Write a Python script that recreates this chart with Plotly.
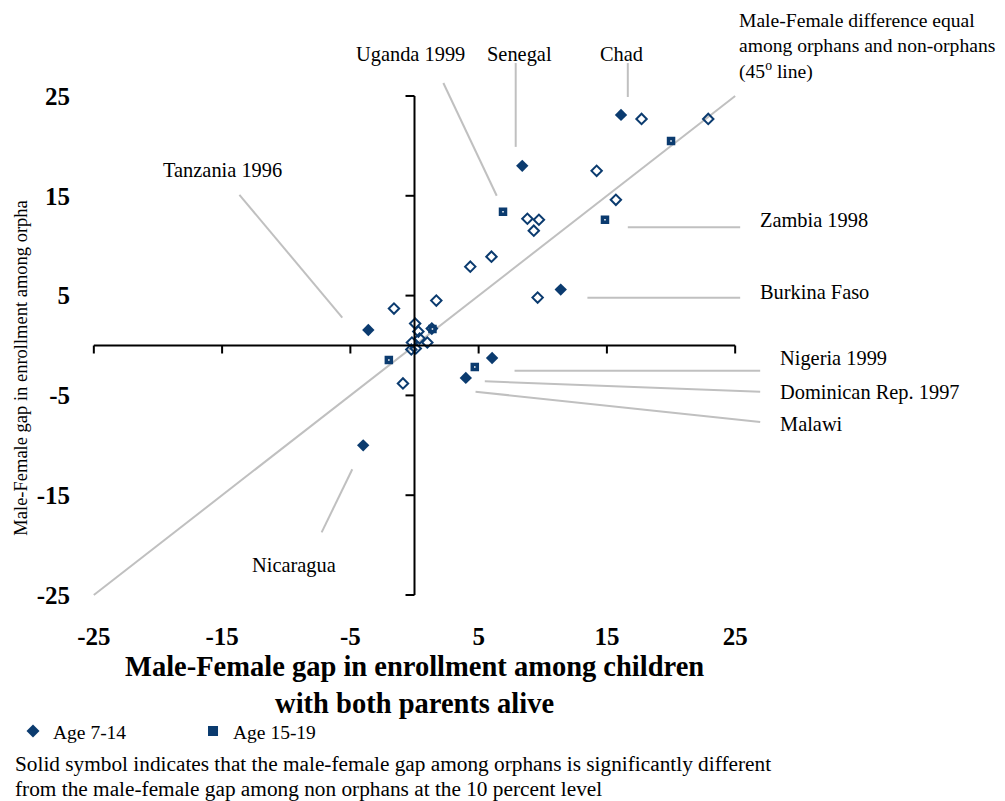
import plotly.graph_objects as go

# ---- data: male-female enrollment gaps (percentage points) ----
# Age 7-14 (diamonds): gap among children with both parents alive vs. among orphans
age714_x = [16.1, 17.7, 22.9, 8.4, 14.2, 15.7, 8.8, 9.7, 9.3, 6.0, 4.35, 1.7, 9.6, 11.4,
            -1.6, -3.6, 0.05, 0.3, 1.35, 0.4, -0.2, 1.0, 0.1, -0.25, 6.05, 4.0, -0.9, -4.0]
age714_y = [23.1, 22.7, 22.7, 18.0, 17.5, 14.6, 12.7, 12.6, 11.5, 8.9, 7.9, 4.5, 4.8, 5.6,
            3.7, 1.55, 2.2, 1.4, 1.7, 0.7, 0.3, 0.3, -0.3, -0.4, -1.25, -3.25, -3.8, -10.0]
# 1 = orphan gap significantly different from non-orphan gap (solid symbol)
age714_sig = [1, 0, 0, 1, 0, 0, 0, 0, 0, 0, 0, 0, 0, 1,
              0, 1, 0, 0, 0, 0, 0, 0, 0, 0, 1, 1, 0, 1]

# Age 15-19 (squares)
age1519_x = [20.0, 6.9, 14.85, 1.4, -2.0, 4.7]
age1519_y = [20.5, 13.4, 12.6, 1.65, -1.45, -2.15]

tick_vals = [-25, -15, -5, 5, 15, 25]
tick_text = ["-25", "-15", "-5", "5", "15", "25"]

# country call-outs: label, text anchor (data units), leader line start/end (data units)
callouts = [
    ("Tanzania 1996", (-15.0, 17.6), "center", (-13.65, 15.1), (-5.63, 2.8)),
    ("Uganda 1999", (-0.35, 29.2), "center", (2.25, 26.3), (6.41, 15.0)),
    ("Senegal", (8.15, 29.2), "center", (7.89, 28.3), (7.89, 19.9)),
    ("Chad", (16.1, 29.2), "center", (16.63, 28.3), (16.63, 24.9)),
    ("Zambia 1998", (26.79, 12.58), "left", (16.63, 11.84), (25.39, 11.84)),
    ("Burkina Faso", (26.79, 5.36), "left", (13.48, 4.79), (25.39, 4.79)),
    ("Nigeria 1999", (28.3, -1.35), "left", (7.8, -2.52), (26.95, -2.52)),
    ("Dominican Rep. 1997", (28.3, -4.7), "left", (5.48, -3.59), (26.95, -4.63)),
    ("Malawi", (28.3, -7.85), "left", (4.76, -4.63), (26.95, -7.66)),
    ("Nicaragua", (-9.4, -22.0), "center", (-4.85, -12.4), (-7.24, -18.72)),
]

NAVY = "#0b3b6f"
GREY = "#c0c0c0"
SERIF = "Liberation Serif, Times New Roman, serif"

X_MIN, X_MAX = -26, 26
Y_MIN, Y_MAX = -26, 26


def to_px(x):
    return (x - X_MIN) / (X_MAX - X_MIN)


def to_py(y):
    return (y - Y_MIN) / (Y_MAX - Y_MIN)


fig = go.Figure()

# 45-degree reference line
fig.add_trace(go.Scatter(x=[-25, 25], y=[-25, 25], mode="lines",
                         line=dict(color=GREY, width=2), hoverinfo="skip",
                         showlegend=False))

solid_x = [x for x, s in zip(age714_x, age714_sig) if s]
solid_y = [y for y, s in zip(age714_y, age714_sig) if s]
open_x = [x for x, s in zip(age714_x, age714_sig) if not s]
open_y = [y for y, s in zip(age714_y, age714_sig) if not s]

fig.add_trace(go.Scatter(x=open_x, y=open_y, mode="markers", showlegend=False,
                         marker=dict(symbol="diamond-open", size=8, color=NAVY,
                                     line=dict(color=NAVY, width=2))))
fig.add_trace(go.Scatter(x=solid_x, y=solid_y, mode="markers", showlegend=False,
                         marker=dict(symbol="diamond", size=9.5, color=NAVY,
                                     line=dict(width=0))))
fig.add_trace(go.Scatter(x=age1519_x, y=age1519_y, mode="markers", showlegend=False,
                         marker=dict(symbol="square-open", size=5, color=NAVY,
                                     line=dict(color=NAVY, width=3.5))))

# legend entries
fig.add_trace(go.Scatter(x=[None], y=[None], mode="markers", name="Age 7-14",
                         marker=dict(symbol="diamond", size=10, color=NAVY)))
fig.add_trace(go.Scatter(x=[None], y=[None], mode="markers", name="Age 15-19",
                         marker=dict(symbol="square", size=10, color=NAVY)))

shapes = []
# cross axes through the origin
shapes.append(dict(type="line", xref="x", yref="y", x0=-25, x1=25, y0=0, y1=0,
                   line=dict(color="black", width=2)))
shapes.append(dict(type="line", xref="x", yref="y", x0=0, x1=0, y0=-25, y1=25,
                   line=dict(color="black", width=2)))
for t in tick_vals:
    shapes.append(dict(type="line", xref="x", yref="y", ysizemode="pixel", yanchor=0,
                       x0=t, x1=t, y0=0, y1=-8, line=dict(color="black", width=2)))
    shapes.append(dict(type="line", xref="x", yref="y", xsizemode="pixel", xanchor=0,
                       x0=0, x1=-9, y0=t, y1=t, line=dict(color="black", width=2)))

LABEL_FONT = dict(family=SERIF, size=20.4, color="black")

annotations = []
for label, (tx, ty), align, (x0, y0), (x1, y1) in callouts:
    shapes.append(dict(type="line", xref="paper", yref="paper",
                       x0=to_px(x0), y0=to_py(y0), x1=to_px(x1), y1=to_py(y1),
                       line=dict(color=GREY, width=2)))
    annotations.append(dict(text=label, xref="paper", yref="paper",
                            x=to_px(tx), y=to_py(ty), xanchor=align, yanchor="middle",
                            showarrow=False, font=LABEL_FONT))

annotations.append(dict(
    text="Male-Female difference equal<br>among orphans and non-orphans<br>(45<sup>o</sup> line)",
    xref="paper", yref="paper", x=to_px(25.16), y=to_py(30.0), xanchor="left",
    yanchor="middle", align="left", showarrow=False,
    font=dict(family=SERIF, size=19.6, color="black")))

annotations.append(dict(
    text="Male-Female gap in enrollment among children<br>with both parents alive",
    xref="paper", yref="paper", x=0.5, y=to_py(-34.0), xanchor="center", yanchor="middle",
    showarrow=False, font=dict(family=SERIF, size=28.5, color="black", weight="bold")))

annotations.append(dict(
    text="Male-Female gap in enrollment among orpha",
    xref="paper", yref="paper", x=to_px(-30.7), y=to_py(-2.25), xanchor="center",
    yanchor="middle", textangle=-90, showarrow=False,
    font=dict(family=SERIF, size=18.5, color="black")))

NOTE_FONT = dict(family=SERIF, size=21.3, color="black")
annotations.append(dict(
    text="Solid symbol indicates that the male-female gap among orphans is significantly different",
    xref="paper", yref="paper", x=to_px(-31.3), y=to_py(-41.9), xanchor="left",
    yanchor="middle", showarrow=False, font=NOTE_FONT))
annotations.append(dict(
    text="from the male-female gap among non orphans at the 10 percent level",
    xref="paper", yref="paper", x=to_px(-31.3), y=to_py(-44.4), xanchor="left",
    yanchor="middle", showarrow=False, font=NOTE_FONT))

fig.update_layout(
    width=1005, height=801,
    margin=dict(l=81.18, r=257.18, t=86.02, b=196.02, autoexpand=False),
    plot_bgcolor="white", paper_bgcolor="white",
    shapes=shapes, annotations=annotations,
    showlegend=True,
    legend=dict(orientation="h", x=to_px(-31.3), y=to_py(-36.7), xanchor="left",
                yanchor="top", font=dict(family=SERIF, size=19.5, color="black"),
                entrywidth=135, entrywidthmode="pixels", bgcolor="rgba(0,0,0,0)"),
    xaxis=dict(range=[X_MIN, X_MAX], showgrid=False, zeroline=False, showline=False,
               automargin=False,
               tickvals=tick_vals, ticktext=tick_text, ticks="outside", ticklen=9,
               tickcolor="rgba(0,0,0,0)",
               tickfont=dict(family=SERIF, size=25, color="black", weight="bold")),
    yaxis=dict(range=[Y_MIN, Y_MAX], showgrid=False, zeroline=False, showline=False,
               automargin=False,
               tickvals=tick_vals, ticktext=tick_text, ticks="outside", ticklen=5,
               tickcolor="rgba(0,0,0,0)",
               tickfont=dict(family=SERIF, size=25, color="black", weight="bold")),
)

fig.write_html("out.html")
